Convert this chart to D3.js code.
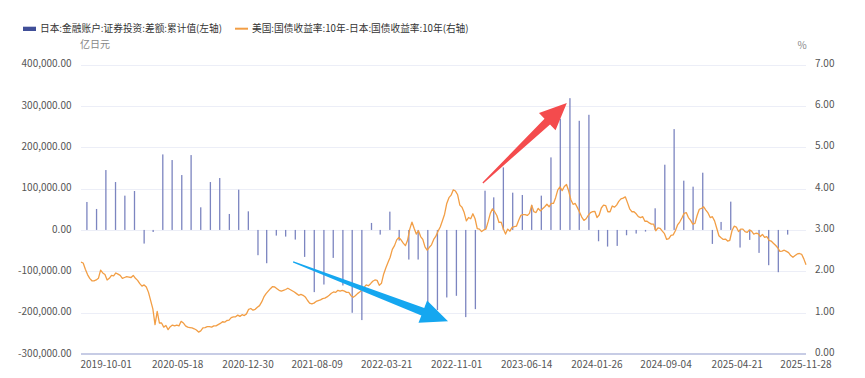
<!DOCTYPE html>
<html>
<head>
<meta charset="utf-8">
<script src="https://cdn.jsdelivr.net/npm/d3@7"></script>
<style>
  body { margin: 0; background: #fff; }
  svg { display: block; font-family: "Noto Sans CJK SC", "Noto Sans", sans-serif; }
</style>
</head>
<body>
<svg id="chart" width="865" height="378"></svg>
<script>
// monthly cumulative securities investment balance (亿日元), month ends 2019-07 .. 2025-09
const flowMonths = d3.timeMonth
  .range(new Date(2019, 7, 1), new Date(2025, 9, 2))
  .map((d) => d3.timeDay.offset(d, -1));
const flowValues = [
  67600, 50700, 144800, 115800, 82900, 94100, -33000, -5000, 182600, 169000,
  132700, 181000, 54700, 115800, 125500, 38600, 97300, 45000, -61100, -80500,
  -13700, -16100, -23300, -65200, -150400, -132000, -67600, -134300, -200300, -218000,
  16900, -11300, 44200, -25700, -71600, -71600, -176200, -193900, -163300, -159300,
  -210800, -191500, 94900, 78800, 151200, 90100, 84500, 60300, 82900, 175400,
  268700, 318600, 263900, 278400, -27400, -40200, -38600, -12900, -8800, -4000,
  52300, 157700, 243800, 119100, 104600, 138400, -33800, 19300, 68400, -42600,
  -24100, -55500, -85300, -102200, -11300
];

// US 10y minus JP 10y yield spread (%), weekly from 2019-07-12
const spreadStart = new Date(2019, 6, 12);
const spreadValues = [
  2.22, 2.20, 2.05, 1.92, 1.83, 1.77, 1.77, 1.79, 1.83, 2.03,
  1.96, 1.92, 1.79, 1.83, 1.90, 1.89, 1.96, 1.93, 1.90, 1.83,
  1.85, 1.87, 1.86, 1.85, 1.90, 1.83, 1.78, 1.70, 1.64, 1.67,
  1.62, 1.49, 1.29, 1.09, 0.71, 1.03, 0.75, 0.75, 0.65, 0.69,
  0.59, 0.66, 0.70, 0.68, 0.70, 0.68, 0.79, 0.75, 0.68, 0.65,
  0.64, 0.63, 0.61, 0.58, 0.53, 0.56, 0.63, 0.64, 0.66, 0.66,
  0.65, 0.68, 0.68, 0.71, 0.74, 0.78, 0.77, 0.81, 0.82, 0.88,
  0.90, 0.90, 0.94, 0.91, 0.95, 0.93, 0.97, 1.08, 1.10, 1.06,
  1.08, 1.13, 1.17, 1.26, 1.38, 1.46, 1.52, 1.58, 1.63, 1.62,
  1.58, 1.54, 1.52, 1.54, 1.56, 1.59, 1.56, 1.53, 1.50, 1.46,
  1.42, 1.44, 1.42, 1.38, 1.30, 1.23, 1.21, 1.23, 1.27, 1.29,
  1.31, 1.34, 1.35, 1.38, 1.42, 1.47, 1.50, 1.49, 1.54, 1.52,
  1.54, 1.52, 1.49, 1.49, 1.41, 1.37, 1.41, 1.46, 1.50, 1.55,
  1.61, 1.67, 1.65, 1.70, 1.76, 1.79, 1.78, 1.66, 1.71, 1.93,
  2.08, 2.21, 2.34, 2.53, 2.62, 2.76, 2.82, 2.76, 2.68, 2.62,
  2.75, 3.02, 3.19, 3.04, 2.90, 2.98, 2.84, 2.77, 2.59, 2.51,
  2.58, 2.64, 2.77, 2.85, 2.97, 3.07, 3.22, 3.38, 3.64, 3.78,
  3.84, 3.97, 3.94, 3.85, 3.60, 3.55, 3.42, 3.22, 3.30, 3.27,
  3.39, 3.27, 3.03, 3.02, 2.96, 3.00, 3.02, 3.20, 3.40, 3.51,
  3.44, 3.35, 3.18, 3.19, 3.02, 2.90, 3.02, 2.97, 3.06, 3.08,
  3.09, 3.23, 3.35, 3.37, 3.37, 3.35, 3.40, 3.60, 3.44, 3.42,
  3.52, 3.46, 3.51, 3.56, 3.62, 3.56, 3.64, 3.64, 3.78, 3.97,
  4.04, 3.95, 4.05, 4.10, 3.94, 3.73, 3.62, 3.64, 3.54, 3.43,
  3.31, 3.23, 3.27, 3.35, 3.42, 3.44, 3.45, 3.30, 3.36, 3.53,
  3.60, 3.59, 3.44, 3.44, 3.58, 3.55, 3.60, 3.69, 3.75, 3.77,
  3.80, 3.66, 3.51, 3.44, 3.44, 3.39, 3.32, 3.30, 3.32, 3.21,
  3.21, 3.17, 3.14, 3.14, 2.98, 3.05, 3.04, 2.97, 2.91, 2.77,
  2.79, 2.87, 2.88, 2.98, 3.12, 3.19, 3.29, 3.40, 3.42, 3.30,
  3.23, 3.14, 3.16, 3.35, 3.50, 3.52, 3.56, 3.48, 3.41, 3.30,
  3.32, 3.22, 3.04, 2.86, 2.81, 2.77, 2.78, 2.73, 2.75, 2.98,
  3.09, 3.07, 2.96, 3.02, 3.02, 2.96, 2.94, 3.00, 2.97, 2.90,
  2.92, 2.91, 2.84, 2.89, 2.82, 2.84, 2.75, 2.73, 2.68, 2.63,
  2.57, 2.48, 2.49, 2.51, 2.48, 2.45, 2.38, 2.34, 2.38, 2.42,
  2.43, 2.41, 2.30, 2.16
];

const xTickDates = [
  "2019-10-01", "2020-05-18", "2020-12-30", "2021-08-09", "2022-03-21", "2022-11-01",
  "2023-06-14", "2024-01-26", "2024-09-04", "2025-04-21", "2025-11-28"
];
const leftTicks = [-300000, -200000, -100000, 0, 100000, 200000, 300000, 400000];
const rightTicks = [0, 1, 2, 3, 4, 5, 6, 7];

const flowName = "日本:金融账户:证券投资:差额:累计值(左轴)";
const spreadName = "美国:国债收益率:10年-日本:国债收益率:10年(右轴)";

// annotation arrows, in [date, left-axis value]
const arrowNotes = [
  { from: ["2021-05-24", -77300], to: ["2022-10-04", -221000], color: "#15a7f0" },
  { from: ["2023-01-24", 113500], to: ["2023-10-21", 306800], color: "#f44b4d" }
];

const parseDate = d3.timeParse("%Y-%m-%d");
const spread = spreadValues.map((v, i) => ({ date: d3.timeDay.offset(spreadStart, 7 * i), value: v }));
const flows = flowValues.map((v, i) => ({ date: flowMonths[i], value: v }));

const svg = d3.select("#chart");
const plotL = 81, plotR = 806, plotT = 64.5, plotB = 354;

const x = d3.scaleTime()
  .domain([spreadStart, spread[spread.length - 1].date])
  .range([plotL, plotR]);
const yL = d3.scaleLinear().domain([-300000, 400000]).range([plotB, plotT]);
const yR = d3.scaleLinear().domain([0, 7]).range([plotB, plotT]);

const fmtL = d3.formatLocale({ decimal: ".", thousands: ",", grouping: [3], currency: ["", ""], minus: "-" }).format(",.2f");
const fmtR = d3.format(".2f");

// grid
svg.append("g")
  .selectAll("line")
  .data(leftTicks.filter((t) => t > -300000))
  .join("line")
  .attr("x1", plotL).attr("x2", plotR)
  .attr("y1", (d) => Math.round(yL(d)) + 0.5)
  .attr("y2", (d) => Math.round(yL(d)) + 0.5)
  .attr("stroke", "#eceef7")
  .attr("stroke-width", 1.2);

// left axis labels
svg.append("g")
  .selectAll("text")
  .data(leftTicks)
  .join("text")
  .attr("x", 71.5)
  .attr("y", (d) => yL(d) - 0.8)
  .attr("dy", "0.35em")
  .attr("text-anchor", "end")
  .attr("font-size", 10)
  .attr("fill", "#555")
  .text((d) => fmtL(d));

// right axis labels
svg.append("g")
  .selectAll("text")
  .data(rightTicks)
  .join("text")
  .attr("x", 815)
  .attr("y", (d) => yR(d) - 1.3)
  .attr("dy", "0.35em")
  .attr("font-size", 10)
  .attr("fill", "#555")
  .text((d) => fmtR(d));

svg.append("text").attr("x", 95).attr("y", 44).attr("dy", "0.35em")
  .attr("text-anchor", "middle").attr("font-size", 10).attr("fill", "#888").text("亿日元");
svg.append("text").attr("x", 802).attr("y", 45).attr("dy", "0.35em")
  .attr("text-anchor", "middle").attr("font-size", 10).attr("fill", "#888").text("%");

// x axis
svg.append("line")
  .attr("x1", plotL).attr("x2", plotR)
  .attr("y1", plotB).attr("y2", plotB)
  .attr("stroke", "#8f9acb").attr("stroke-width", 1.2);

svg.append("g")
  .selectAll("text")
  .data(xTickDates.map(parseDate))
  .join("text")
  .attr("x", (d) => x(d))
  .attr("y", 364)
  .attr("dy", "0.35em")
  .attr("text-anchor", "middle")
  .attr("font-size", 10)
  .attr("fill", "#555")
  .text((d) => d3.timeFormat("%Y-%m-%d")(d));

// bars
svg.append("g")
  .selectAll("rect")
  .data(flows)
  .join("rect")
  .attr("x", (d) => x(d.date) - 0.65)
  .attr("width", 1.3)
  .attr("y", (d) => Math.min(yL(d.value), yL(0)))
  .attr("height", (d) => Math.abs(yL(d.value) - yL(0)))
  .attr("fill", "#7c85c0");

// spread line
const line = d3.line()
  .x((d) => x(d.date))
  .y((d) => yR(d.value));

svg.append("path")
  .datum(spread)
  .attr("d", line)
  .attr("fill", "none")
  .attr("stroke", "#f29e45")
  .attr("stroke-width", 1.3)
  .attr("stroke-linejoin", "round");

// arrows
arrowNotes.forEach((a) => {
  const t = [x(parseDate(a.from[0])), yL(a.from[1])];
  const p = [x(parseDate(a.to[0])), yL(a.to[1])];
  const dx = p[0] - t[0], dy = p[1] - t[1];
  const len = Math.hypot(dx, dy);
  const u = [dx / len, dy / len];
  const n = [-u[1], u[0]];
  const headLen = 27, headHalf = 12, tailHalf = 0.6, neckHalf = 4;
  const b = [p[0] - u[0] * headLen, p[1] - u[1] * headLen];
  const pt = (c, k) => [c[0] + n[0] * k, c[1] + n[1] * k];
  const poly = [pt(t, tailHalf), pt(b, neckHalf), pt(b, headHalf), p, pt(b, -headHalf), pt(b, -neckHalf), pt(t, -tailHalf)];
  svg.append("polygon")
    .attr("points", poly.map((q) => q.join(",")).join(" "))
    .attr("fill", a.color);
});

// legend
const lg = svg.append("g");
lg.append("rect").attr("x", 23).attr("y", 26.7).attr("width", 13).attr("height", 4.3).attr("fill", "#404f98");
lg.append("text").attr("x", 40).attr("y", 28.7).attr("dy", "0.35em")
  .attr("font-size", 9.7).attr("fill", "#333").text(flowName);
lg.append("line").attr("x1", 235).attr("x2", 248).attr("y1", 28.7).attr("y2", 28.7)
  .attr("stroke", "#f29e45").attr("stroke-width", 2);
lg.append("text").attr("x", 252).attr("y", 28.7).attr("dy", "0.35em")
  .attr("font-size", 9.7).attr("fill", "#333").text(spreadName);
</script>
</body>
</html>
